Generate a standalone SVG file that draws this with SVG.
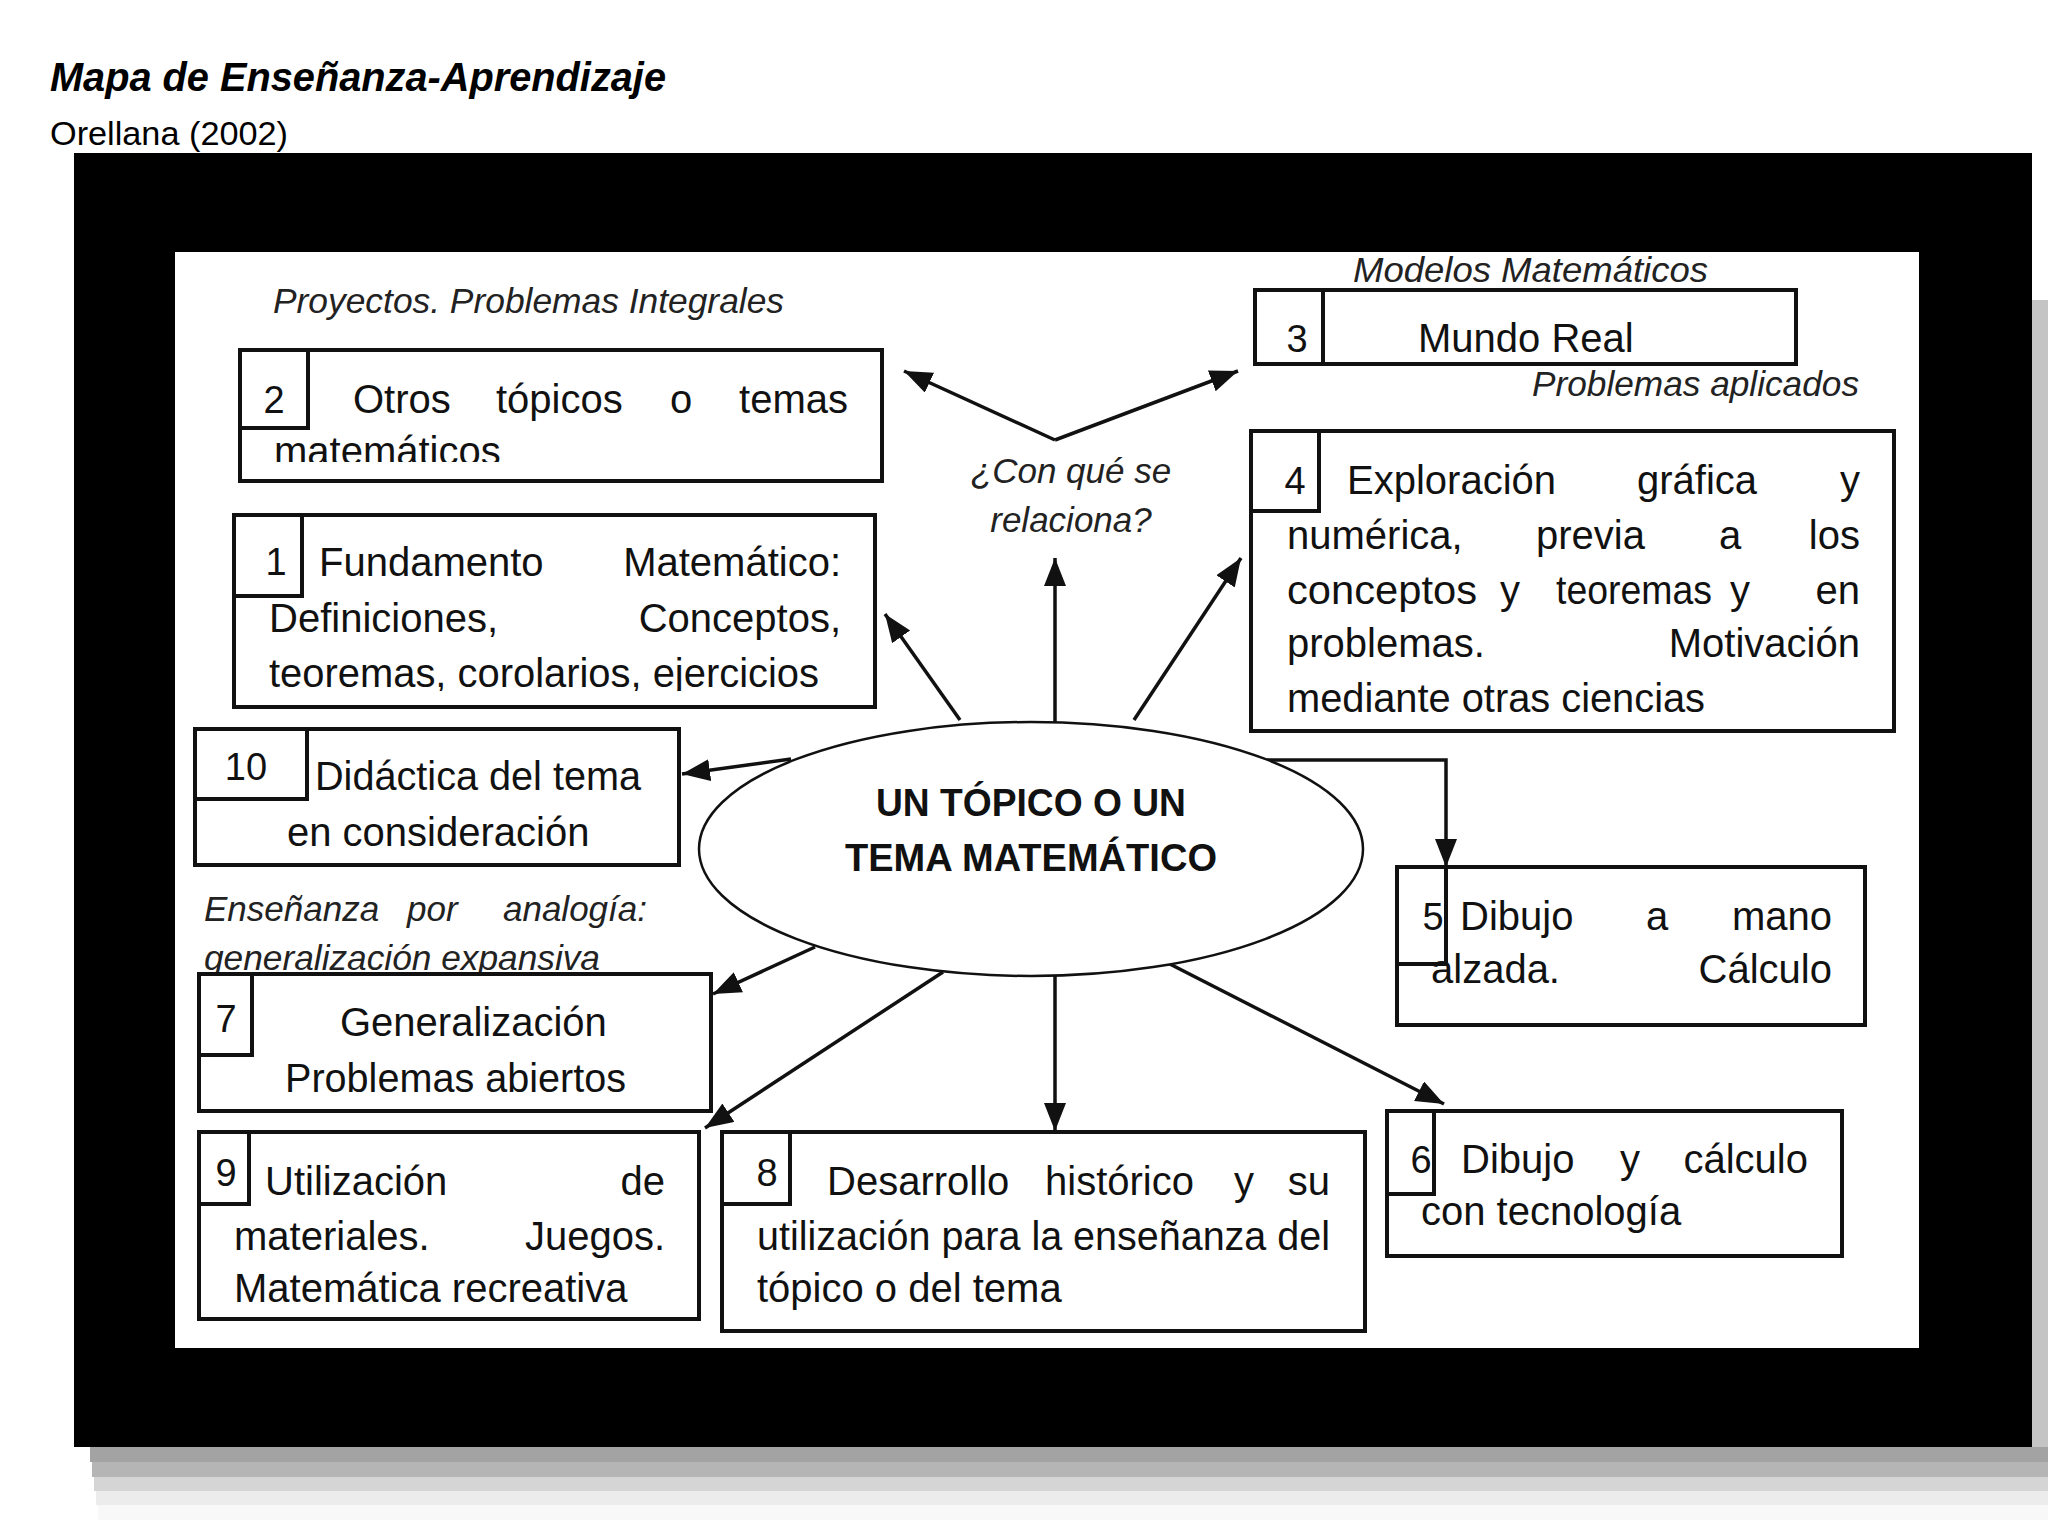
<svg xmlns="http://www.w3.org/2000/svg" width="2048" height="1536" viewBox="0 0 2048 1536">
<style>
.t{font-family:"Liberation Sans",Arial,sans-serif;font-size:40px;fill:#111}
.n{font-family:"Liberation Sans",Arial,sans-serif;font-size:38px;fill:#111}
.i{font-family:"Liberation Sans",Arial,sans-serif;font-size:35px;font-style:italic;fill:#222}
.b{font-family:"Liberation Sans",Arial,sans-serif;font-size:38px;font-weight:bold;fill:#111}
.box{fill:#fff;stroke:#111;stroke-width:4}
.nb{fill:none;stroke:#111;stroke-width:4}
.c{fill:none;stroke:#111;stroke-width:3.5}
</style>
<defs>
<marker id="ah" markerUnits="userSpaceOnUse" markerWidth="30" markerHeight="24" refX="28" refY="11" orient="auto">
<path d="M0,0 L28,11 L0,22 Z" fill="#111"/>
</marker>
<clipPath id="c2"><rect x="240" y="350" width="642" height="112"/></clipPath>
<clipPath id="c1"><rect x="234" y="515" width="641" height="176"/></clipPath>
<clipPath id="c9"><rect x="199" y="1132" width="500" height="172"/></clipPath>
<clipPath id="c3"><rect x="1255" y="290" width="541" height="64"/></clipPath>
</defs>
<rect width="2048" height="1536" fill="#fff"/>
<text x="50" y="91" font-family="Liberation Sans, Arial, sans-serif" font-size="40" font-weight="bold" font-style="italic" fill="#000" textLength="616" lengthAdjust="spacingAndGlyphs">Mapa de Enseñanza-Aprendizaje</text>
<text x="50" y="145" font-family="Liberation Sans, Arial, sans-serif" font-size="34" fill="#000" textLength="238" lengthAdjust="spacingAndGlyphs">Orellana (2002)</text>
<g id="shadow">
<rect x="2032" y="300" width="16" height="1215" fill="#c4c4c4"/>
<rect x="90" y="1447" width="1958" height="15" fill="#a3a3a3"/>
<rect x="92" y="1462" width="1956" height="15" fill="#b5b5b5"/>
<rect x="94" y="1477" width="1954" height="14" fill="#d5d5d5"/>
<rect x="96" y="1491" width="1952" height="14" fill="#ececec"/>
<rect x="98" y="1505" width="1950" height="15" fill="#f8f8f8"/>
</g>
<rect id="frame" x="74" y="153" width="1958" height="1294" fill="#000"/>
<rect id="panel" x="175" y="252" width="1744" height="1096" fill="#fff"/>
<text class="i" x="273" y="313" textLength="511" lengthAdjust="spacingAndGlyphs">Proyectos. Problemas Integrales</text>
<text class="i" x="1353" y="282" textLength="355" lengthAdjust="spacingAndGlyphs">Modelos Matemáticos</text>
<text class="i" x="1532" y="396" textLength="327" lengthAdjust="spacingAndGlyphs">Problemas aplicados</text>
<text class="i" x="1071" y="483" text-anchor="middle">¿Con qué se</text>
<text class="i" x="1071" y="532" text-anchor="middle">relaciona?</text>
<text class="i" x="204" y="921">Enseñanza</text>
<text class="i" x="407" y="921">por</text>
<text class="i" x="647" y="921" text-anchor="end">analogía:</text>
<text class="i" x="204" y="970" textLength="396" lengthAdjust="spacingAndGlyphs">generalización expansiva</text>
<g id="connectors">
<line class="c" x1="1055" y1="440" x2="904" y2="371" marker-end="url(#ah)"/>
<line class="c" x1="1055" y1="440" x2="1238" y2="371" marker-end="url(#ah)"/>
<line class="c" x1="1055" y1="722" x2="1055" y2="558" marker-end="url(#ah)"/>
<line class="c" x1="960" y1="720" x2="885" y2="614" marker-end="url(#ah)"/>
<line class="c" x1="1134" y1="720" x2="1241" y2="558" marker-end="url(#ah)"/>
<line class="c" x1="791" y1="759" x2="682" y2="774" marker-end="url(#ah)"/>
<line class="c" x1="815" y1="947" x2="713" y2="994" marker-end="url(#ah)"/>
<line class="c" x1="943" y1="972" x2="705" y2="1128" marker-end="url(#ah)"/>
<line class="c" x1="1055" y1="976" x2="1055" y2="1131" marker-end="url(#ah)"/>
<line class="c" x1="1162" y1="960" x2="1444" y2="1104" marker-end="url(#ah)"/>
<polyline class="c" points="1267,760 1446,760 1446,867" marker-end="url(#ah)"/>
</g>
<g id="center">
<ellipse cx="1031" cy="849" rx="332" ry="127" fill="#fff" stroke="#111" stroke-width="2.5"/>
<text class="b" x="1031" y="816" text-anchor="middle" textLength="310" lengthAdjust="spacingAndGlyphs">UN TÓPICO O UN</text>
<text class="b" x="1031" y="871" text-anchor="middle" textLength="372" lengthAdjust="spacingAndGlyphs">TEMA MATEMÁTICO</text>
</g>
<g id="node2">
<rect class="box" x="240" y="350" width="642" height="131"/>
<rect class="nb" x="240" y="350" width="68" height="78"/>
<text class="n" x="274" y="413" text-anchor="middle">2</text>
<text class="t" x="353" y="413">Otros</text>
<text class="t" x="496" y="413">tópicos</text>
<text class="t" x="670" y="413">o</text>
<text class="t" x="848" y="413" text-anchor="end">temas</text>
<text class="t" x="274" y="465" clip-path="url(#c2)">matemáticos</text>
</g>
<g id="node1">
<rect class="box" x="234" y="515" width="641" height="192"/>
<rect class="nb" x="234" y="515" width="68" height="81"/>
<text class="n" x="276" y="575" text-anchor="middle">1</text>
<text class="t" x="319" y="576">Fundamento</text>
<text class="t" x="841" y="576" text-anchor="end">Matemático:</text>
<text class="t" x="269" y="632">Definiciones,</text>
<text class="t" x="841" y="632" text-anchor="end">Conceptos,</text>
<text class="t" x="269" y="687" textLength="550" lengthAdjust="spacingAndGlyphs" clip-path="url(#c1)">teoremas, corolarios, ejercicios</text>
</g>
<g id="node3">
<rect class="box" x="1255" y="290" width="541" height="74"/>
<rect class="nb" x="1255" y="290" width="68" height="74"/>
<text class="n" x="1297" y="352" text-anchor="middle" clip-path="url(#c3)">3</text>
<text class="t" x="1418" y="352" clip-path="url(#c3)">Mundo Real</text>
</g>
<g id="node4">
<rect class="box" x="1251" y="431" width="643" height="300"/>
<rect class="nb" x="1251" y="431" width="68" height="80"/>
<text class="n" x="1295" y="494" text-anchor="middle">4</text>
<text class="t" x="1347" y="494">Exploración</text>
<text class="t" x="1637" y="494">gráfica</text>
<text class="t" x="1860" y="494" text-anchor="end">y</text>
<text class="t" x="1287" y="549">numérica,</text>
<text class="t" x="1536" y="549">previa</text>
<text class="t" x="1719" y="549">a</text>
<text class="t" x="1860" y="549" text-anchor="end">los</text>
<text class="t" x="1287" y="604" textLength="190" lengthAdjust="spacingAndGlyphs">conceptos</text>
<text class="t" x="1500" y="604">y</text>
<text class="t" x="1556" y="604" textLength="156" lengthAdjust="spacingAndGlyphs">teoremas</text>
<text class="t" x="1730" y="604">y</text>
<text class="t" x="1860" y="604" text-anchor="end">en</text>
<text class="t" x="1287" y="657">problemas.</text>
<text class="t" x="1860" y="657" text-anchor="end">Motivación</text>
<text class="t" x="1287" y="712" textLength="418" lengthAdjust="spacingAndGlyphs">mediante otras ciencias</text>
</g>
<g id="node10">
<rect class="box" x="195" y="729" width="484" height="136"/>
<rect class="nb" x="195" y="729" width="112" height="70"/>
<text class="n" x="246" y="780" text-anchor="middle" font-size="32">10</text>
<text class="t" x="315" y="790" textLength="326" lengthAdjust="spacingAndGlyphs">Didáctica del tema</text>
<text class="t" x="287" y="846">en consideración</text>
</g>
<g id="node7">
<rect class="box" x="199" y="974" width="512" height="137"/>
<rect class="nb" x="199" y="974" width="53" height="81"/>
<text class="n" x="226" y="1032" text-anchor="middle">7</text>
<text class="t" x="340" y="1036">Generalización</text>
<text class="t" x="285" y="1092" textLength="341" lengthAdjust="spacingAndGlyphs">Problemas abiertos</text>
</g>
<g id="node9">
<rect class="box" x="199" y="1132" width="500" height="187"/>
<rect class="nb" x="199" y="1132" width="50" height="72"/>
<text class="n" x="226" y="1186" text-anchor="middle" font-size="32">9</text>
<text class="t" x="265" y="1195">Utilización</text>
<text class="t" x="665" y="1195" text-anchor="end">de</text>
<text class="t" x="234" y="1250">materiales.</text>
<text class="t" x="665" y="1250" text-anchor="end">Juegos.</text>
<text class="t" x="234" y="1302" clip-path="url(#c9)">Matemática recreativa</text>
</g>
<g id="node8">
<rect class="box" x="722" y="1132" width="643" height="199"/>
<rect class="nb" x="722" y="1132" width="68" height="72"/>
<text class="n" x="767" y="1186" text-anchor="middle" font-size="32">8</text>
<text class="t" x="827" y="1195">Desarrollo</text>
<text class="t" x="1045" y="1195">histórico</text>
<text class="t" x="1234" y="1195">y</text>
<text class="t" x="1330" y="1195" text-anchor="end">su</text>
<text class="t" x="757" y="1250" textLength="573" lengthAdjust="spacingAndGlyphs">utilización para la enseñanza del</text>
<text class="t" x="757" y="1302">tópico o del tema</text>
</g>
<g id="node5">
<rect class="box" x="1397" y="867" width="468" height="158"/>
<rect class="nb" x="1397" y="867" width="49" height="97"/>
<text class="n" x="1433" y="930" text-anchor="middle">5</text>
<text class="t" x="1460" y="930">Dibujo</text>
<text class="t" x="1646" y="930">a</text>
<text class="t" x="1832" y="930" text-anchor="end">mano</text>
<text class="t" x="1431" y="983">alzada.</text>
<text class="t" x="1832" y="983" text-anchor="end">Cálculo</text>
</g>
<g id="node6">
<rect class="box" x="1387" y="1111" width="455" height="145"/>
<rect class="nb" x="1387" y="1111" width="47" height="83"/>
<text class="n" x="1421" y="1173" text-anchor="middle">6</text>
<text class="t" x="1461" y="1173">Dibujo</text>
<text class="t" x="1620" y="1173">y</text>
<text class="t" x="1808" y="1173" text-anchor="end">cálculo</text>
<text class="t" x="1421" y="1225">con tecnología</text>
</g>
</svg>
